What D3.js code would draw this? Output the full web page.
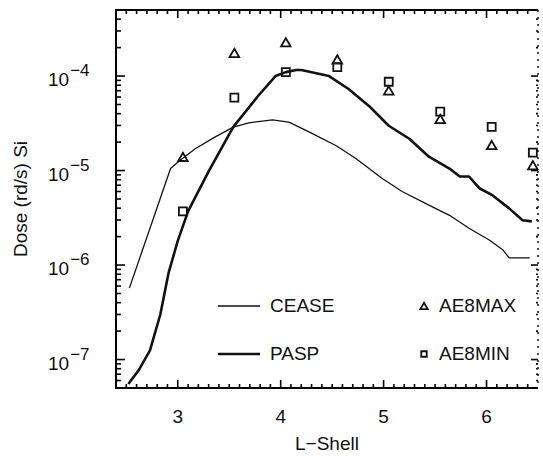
<!DOCTYPE html>
<html>
<head>
<meta charset="utf-8">
<script src="https://cdn.jsdelivr.net/npm/d3@7"></script>
<style>
  body { margin: 0; background: #fff; }
  svg { display: block; }
  text { font-family: "Liberation Sans", Arial, sans-serif; fill: #111; }
</style>
</head>
<body>
<svg id="chart" width="543" height="456"></svg>
<script>
// CEASE dose vs L-shell (thin line)
var ceaseL = [2.53, 2.93, 3.02, 3.17, 3.36, 3.54, 3.69, 3.92, 4.08, 4.27, 4.54, 4.73, 4.99, 5.18, 5.44, 5.64, 5.83, 6.03, 6.16, 6.22, 6.42];
var ceaseDose = [5.7e-7, 1.05e-5, 1.28e-5, 1.7e-5, 2.26e-5, 2.88e-5, 3.2e-5, 3.44e-5, 3.26e-5, 2.58e-5, 1.83e-5, 1.34e-5, 8.2e-6, 6.0e-6, 4.3e-6, 3.36e-6, 2.45e-6, 1.83e-6, 1.44e-6, 1.19e-6, 1.19e-6];

// PASP dose vs L-shell (thick line)
var paspL = [2.52, 2.62, 2.73, 2.83, 2.91, 3.0, 3.1, 3.3, 3.54, 3.78, 3.95, 4.05, 4.15, 4.2, 4.47, 4.66, 4.86, 5.05, 5.25, 5.44, 5.64, 5.74, 5.83, 5.93, 6.06, 6.22, 6.35, 6.44];
var paspDose = [5.5e-8, 7.7e-8, 1.25e-7, 2.98e-7, 8.2e-7, 1.8e-6, 3.7e-6, 9.8e-6, 2.9e-5, 6.15e-5, 1.0e-4, 1.1e-4, 1.16e-4, 1.16e-4, 1.0e-4, 7.3e-5, 4.8e-5, 2.98e-5, 2.17e-5, 1.4e-5, 1.05e-5, 8.65e-6, 8.65e-6, 6.5e-6, 5.45e-6, 3.98e-6, 2.98e-6, 2.9e-6];

// AE8 model points
var aeL = [3.05, 3.55, 4.05, 4.55, 5.05, 5.55, 6.05, 6.45];
var ae8max = [1.35e-5, 1.7e-4, 2.2e-4, 1.45e-4, 6.8e-5, 3.4e-5, 1.8e-5, 1.1e-5];
var ae8min = [3.7e-6, 5.9e-5, 1.1e-4, 1.24e-4, 8.7e-5, 4.2e-5, 2.9e-5, 1.55e-5];

var xMajor = [3, 4, 5, 6];
var yMajor = [-7, -6, -5, -4];

var svg = d3.select('#chart');
var pL = 116, pR = 538, pT = 10, pB = 388;

var x = d3.scaleLinear().domain([2.4, 6.5]).range([pL, pR]);
var y = d3.scaleLog().domain([5e-8, 5e-4]).range([pB, pT]);

// minor ticks
var xMinor = d3.range(25, 65).map(function (d) { return d / 10; })
  .filter(function (d) { return xMajor.indexOf(d) < 0; });
var yMinor = [];
for (var ex = -8; ex <= -4; ex++) {
  for (var mm = 2; mm <= 9; mm++) {
    var vv = mm * Math.pow(10, ex);
    if (vv > 5e-8 && vv < 5e-4) yMinor.push(vv);
  }
}
var yMajorVals = yMajor.map(function (p) { return Math.pow(10, p); });

// ticks, all pointing into the plot
var ticks = svg.append('g').attr('stroke', '#000').attr('stroke-width', 1.6);
function xTicks(vals, len) {
  vals.forEach(function (d) {
    ticks.append('line').attr('x1', x(d)).attr('x2', x(d)).attr('y1', pB).attr('y2', pB - len);
    ticks.append('line').attr('x1', x(d)).attr('x2', x(d)).attr('y1', pT).attr('y2', pT + len);
  });
}
function yTicks(vals, lenL, lenR) {
  vals.forEach(function (d) {
    ticks.append('line').attr('x1', pL).attr('x2', pL + lenL).attr('y1', y(d)).attr('y2', y(d));
    ticks.append('line').attr('x1', pR).attr('x2', pR - lenR).attr('y1', y(d)).attr('y2', y(d));
  });
}
xTicks(xMinor, 4);
xTicks(xMajor, 8);
yTicks(yMinor, 5, 2);
yTicks(yMajorVals, 9, 7);

// frame
svg.append('path')
  .attr('d', 'M' + pR + ',' + pT + 'H' + pL + 'V' + pB + 'H' + pR)
  .attr('fill', 'none').attr('stroke', '#000').attr('stroke-width', 2);
svg.append('line')
  .attr('x1', pR).attr('x2', pR).attr('y1', pT).attr('y2', pB)
  .attr('stroke', '#222').attr('stroke-width', 1.6).attr('stroke-dasharray', '2,5');

// x labels
svg.selectAll('.xlab').data(xMajor).enter().append('text')
  .attr('x', function (d) { return x(d); })
  .attr('y', 423)
  .attr('text-anchor', 'middle')
  .style('font-size', '19px')
  .text(function (d) { return d; });

svg.append('text')
  .attr('x', (pL + pR) / 2).attr('y', 450)
  .attr('text-anchor', 'middle').style('font-size', '19px')
  .text('L\u2212Shell');

// y labels 10^n
var yl = svg.selectAll('.ylab').data(yMajor).enter().append('text')
  .attr('x', 48)
  .attr('y', function (d) { return y(Math.pow(10, d)) + 10; })
  .style('font-size', '19px');
yl.append('tspan').text('10');
yl.append('tspan').attr('dy', -10).attr('dx', 1).style('font-size', '17px')
  .text(function (d) { return '\u2212' + (-d); });

svg.append('text')
  .attr('transform', 'translate(27,' + ((pT + pB) / 2) + ') rotate(-90)')
  .attr('text-anchor', 'middle').style('font-size', '19px')
  .text('Dose (rd/s) Si');

// curves
var line = d3.line()
  .x(function (d) { return x(d[0]); })
  .y(function (d) { return y(d[1]); });

svg.append('path')
  .datum(d3.zip(ceaseL, ceaseDose))
  .attr('d', line)
  .attr('fill', 'none').attr('stroke', '#111').attr('stroke-width', 1.3)
  .attr('stroke-linejoin', 'round');

svg.append('path')
  .datum(d3.zip(paspL, paspDose))
  .attr('d', line)
  .attr('fill', 'none').attr('stroke', '#111').attr('stroke-width', 2.6)
  .attr('stroke-linejoin', 'round');

// markers
var tri = d3.symbol().type(d3.symbolTriangle).size(40);
var sq = d3.symbol().type(d3.symbolSquare).size(64);

svg.selectAll('.tri').data(d3.zip(aeL, ae8max)).enter().append('path')
  .attr('d', tri)
  .attr('transform', function (d) { return 'translate(' + x(d[0]) + ',' + y(d[1]) + ')'; })
  .attr('fill', 'none').attr('stroke', '#111').attr('stroke-width', 1.8);

svg.selectAll('.sq').data(d3.zip(aeL, ae8min)).enter().append('path')
  .attr('d', sq)
  .attr('transform', function (d) { return 'translate(' + x(d[0]) + ',' + y(d[1]) + ')'; })
  .attr('fill', 'none').attr('stroke', '#111').attr('stroke-width', 1.8);

// legend
var lg = svg.append('g');
lg.append('line').attr('x1', 218).attr('x2', 260).attr('y1', 306).attr('y2', 306)
  .attr('stroke', '#111').attr('stroke-width', 1.3);
lg.append('line').attr('x1', 218).attr('x2', 260).attr('y1', 354).attr('y2', 354)
  .attr('stroke', '#111').attr('stroke-width', 2.6);
lg.append('text').attr('x', 270).attr('y', 312).style('font-size', '19px').text('CEASE');
lg.append('text').attr('x', 270).attr('y', 360).style('font-size', '19px').text('PASP');
lg.append('path').attr('d', d3.symbol().type(d3.symbolTriangle).size(24))
  .attr('transform', 'translate(424,307)')
  .attr('fill', 'none').attr('stroke', '#111').attr('stroke-width', 1.8);
lg.append('path').attr('d', d3.symbol().type(d3.symbolSquare).size(30))
  .attr('transform', 'translate(424,354)')
  .attr('fill', 'none').attr('stroke', '#111').attr('stroke-width', 1.8);
lg.append('text').attr('x', 439).attr('y', 312).style('font-size', '19px').text('AE8MAX');
lg.append('text').attr('x', 439).attr('y', 360).style('font-size', '19px').text('AE8MIN');
</script>
</body>
</html>
